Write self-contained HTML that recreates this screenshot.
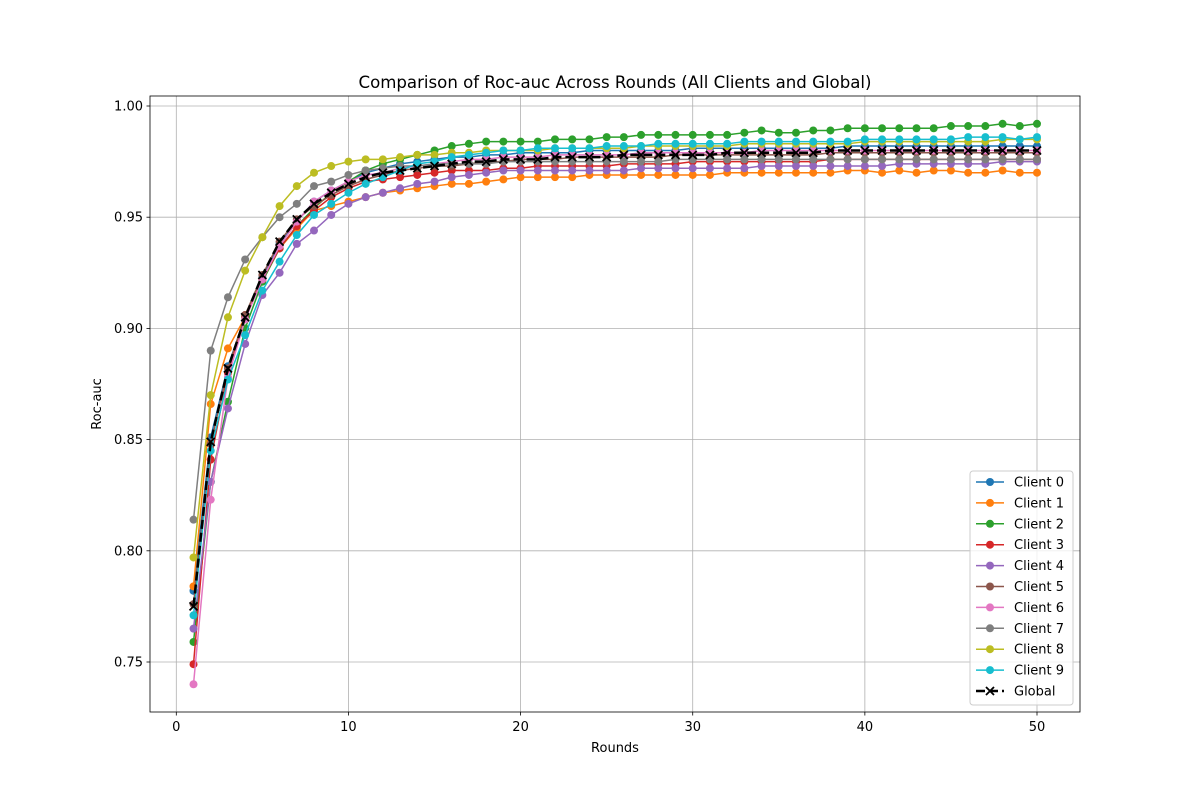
<!DOCTYPE html>
<html><head><meta charset="utf-8"><style>
body{margin:0;background:#fff;font-family:"Liberation Sans","DejaVu Sans",sans-serif}
svg text{font-family:"DejaVu Sans","Liberation Sans",sans-serif;fill:#000}
</style></head><body>
<svg id="chart" width="1200" height="800" xmlns="http://www.w3.org/2000/svg">
<rect width="1200" height="800" fill="#fff"/>
<g id="grid"></g><g id="series"></g><g id="axes"></g><g id="legend"></g>
</svg>
<script>
const rounds = Array.from({length:50},(_,i)=>i+1);
const xTicks = [0,10,20,30,40,50];
const yTicks = [0.75,0.80,0.85,0.90,0.95,1.00];
const seriesNames = ["Client 0","Client 1","Client 2","Client 3","Client 4","Client 5","Client 6","Client 7","Client 8","Client 9","Global"];
const colors = ["#1f77b4","#ff7f0e","#2ca02c","#d62728","#9467bd","#8c564b","#e377c2","#7f7f7f","#bcbd22","#17becf","#000000"];
const client0 = [0.782,0.851,0.883,0.905,0.923,0.938,0.948,0.957,0.962,0.966,0.970,0.972,0.974,0.975,0.976,0.977,0.977,0.978,0.978,0.979,0.979,0.979,0.979,0.980,0.980,0.980,0.980,0.980,0.980,0.981,0.981,0.981,0.981,0.981,0.981,0.981,0.981,0.981,0.982,0.982,0.982,0.982,0.982,0.982,0.982,0.982,0.982,0.982,0.982,0.982];
const client1 = [0.784,0.866,0.891,0.905,0.922,0.936,0.945,0.953,0.955,0.957,0.959,0.961,0.962,0.963,0.964,0.965,0.965,0.966,0.967,0.968,0.968,0.968,0.968,0.969,0.969,0.969,0.969,0.969,0.969,0.969,0.969,0.970,0.970,0.970,0.970,0.970,0.970,0.970,0.971,0.971,0.970,0.971,0.970,0.971,0.971,0.970,0.970,0.971,0.970,0.970];
const client2 = [0.759,0.831,0.867,0.900,0.921,0.936,0.946,0.954,0.961,0.966,0.971,0.974,0.976,0.978,0.980,0.982,0.983,0.984,0.984,0.984,0.984,0.985,0.985,0.985,0.986,0.986,0.987,0.987,0.987,0.987,0.987,0.987,0.988,0.989,0.988,0.988,0.989,0.989,0.990,0.990,0.990,0.990,0.990,0.990,0.991,0.991,0.991,0.992,0.991,0.992];
const client3 = [0.749,0.841,0.880,0.906,0.922,0.936,0.946,0.953,0.959,0.963,0.966,0.967,0.968,0.969,0.970,0.971,0.971,0.971,0.972,0.972,0.973,0.973,0.973,0.973,0.973,0.974,0.974,0.974,0.974,0.975,0.975,0.975,0.975,0.975,0.975,0.975,0.975,0.976,0.976,0.976,0.976,0.976,0.976,0.976,0.976,0.976,0.976,0.976,0.976,0.976];
const client4 = [0.765,0.831,0.864,0.893,0.915,0.925,0.938,0.944,0.951,0.956,0.959,0.961,0.963,0.965,0.966,0.968,0.969,0.970,0.971,0.971,0.971,0.971,0.971,0.971,0.971,0.971,0.972,0.972,0.972,0.972,0.972,0.972,0.972,0.973,0.973,0.973,0.973,0.973,0.973,0.973,0.973,0.974,0.974,0.974,0.974,0.974,0.974,0.975,0.975,0.975];
const client5 = [0.776,0.848,0.882,0.906,0.924,0.939,0.949,0.955,0.960,0.964,0.967,0.969,0.971,0.972,0.973,0.973,0.974,0.975,0.975,0.976,0.976,0.976,0.977,0.977,0.977,0.977,0.977,0.977,0.978,0.978,0.978,0.978,0.978,0.978,0.978,0.978,0.978,0.979,0.979,0.979,0.979,0.979,0.979,0.979,0.979,0.979,0.979,0.979,0.979,0.979];
const client6 = [0.740,0.823,0.878,0.904,0.922,0.937,0.948,0.957,0.962,0.966,0.969,0.970,0.972,0.973,0.974,0.975,0.976,0.976,0.977,0.977,0.977,0.978,0.978,0.978,0.978,0.978,0.979,0.979,0.979,0.979,0.979,0.979,0.979,0.980,0.980,0.980,0.980,0.980,0.980,0.980,0.980,0.980,0.980,0.980,0.980,0.980,0.980,0.980,0.980,0.980];
const client7 = [0.814,0.890,0.914,0.931,0.941,0.950,0.956,0.964,0.966,0.969,0.971,0.972,0.973,0.973,0.974,0.974,0.974,0.974,0.975,0.975,0.975,0.975,0.975,0.975,0.975,0.975,0.975,0.975,0.976,0.976,0.976,0.976,0.976,0.976,0.976,0.976,0.976,0.976,0.976,0.976,0.976,0.976,0.976,0.976,0.976,0.976,0.976,0.976,0.976,0.976];
const client8 = [0.797,0.870,0.905,0.926,0.941,0.955,0.964,0.970,0.973,0.975,0.976,0.976,0.977,0.978,0.978,0.979,0.979,0.980,0.980,0.980,0.980,0.981,0.981,0.981,0.981,0.981,0.982,0.982,0.982,0.982,0.982,0.982,0.983,0.983,0.983,0.983,0.983,0.983,0.983,0.984,0.984,0.984,0.984,0.984,0.984,0.984,0.984,0.985,0.985,0.985];
const client9 = [0.771,0.845,0.877,0.897,0.917,0.930,0.942,0.951,0.956,0.961,0.965,0.968,0.971,0.974,0.975,0.977,0.978,0.979,0.980,0.980,0.981,0.981,0.981,0.981,0.982,0.982,0.982,0.983,0.983,0.983,0.983,0.983,0.984,0.984,0.984,0.984,0.984,0.984,0.984,0.985,0.985,0.985,0.985,0.985,0.985,0.986,0.986,0.986,0.985,0.986];
const globalVals = [0.775,0.849,0.882,0.905,0.924,0.939,0.949,0.956,0.961,0.965,0.968,0.970,0.971,0.972,0.973,0.974,0.975,0.975,0.976,0.976,0.976,0.977,0.977,0.977,0.977,0.978,0.978,0.978,0.978,0.978,0.978,0.979,0.979,0.979,0.979,0.979,0.979,0.980,0.980,0.980,0.980,0.980,0.980,0.980,0.980,0.980,0.980,0.980,0.980,0.980];
const allSeries = [client0,client1,client2,client3,client4,client5,client6,client7,client8,client9,globalVals];

const NS="http://www.w3.org/2000/svg";
const L=150,R=1080,T=96,B=712;
const xS=v=>176.3+(v-0)*(1037-176.3)/50;
const yS=v=>106+(1.0-v)*(662-106)/0.25;
function mk(tag,attrs,parent){const e=document.createElementNS(NS,tag);for(const k in attrs)e.setAttribute(k,attrs[k]);parent.appendChild(e);return e;}
const grid=document.getElementById('grid'),ser=document.getElementById('series'),ax=document.getElementById('axes'),leg=document.getElementById('legend');

xTicks.forEach(t=>{const x=xS(t);
 const g=mk('line',{x1:x,x2:x,y1:T,y2:B,stroke:'#b0b0b0','stroke-width':0.8},grid);
 
 
 mk('line',{x1:x,x2:x,y1:B,y2:B+3.5,stroke:'#000','stroke-width':0.8},ax);
 const tx=mk('text',{x:x,y:B+19,'text-anchor':'middle','font-size':13},ax);tx.textContent=t;
 
 
});
yTicks.forEach(t=>{const y=yS(t);
 const g=mk('line',{x1:L,x2:R,y1:y,y2:y,stroke:'#b0b0b0','stroke-width':0.8},grid);
 
 
 mk('line',{x1:L-3.5,x2:L,y1:y,y2:y,stroke:'#000','stroke-width':0.8},ax);
 const tx=mk('text',{x:L-7,y:y+4.5,'text-anchor':'end','font-size':13},ax);tx.textContent=t.toFixed(2);
 
 
});
const fr=mk('rect',{x:L,y:T,width:R-L,height:B-T,fill:'none',stroke:'#000','stroke-width':0.8},ax);


const ti=mk('text',{x:615,y:88,'text-anchor':'middle','font-size':16.6},ax);ti.textContent='Comparison of Roc-auc Across Rounds (All Clients and Global)';


const xl=mk('text',{x:615,y:752,'text-anchor':'middle','font-size':13},ax);xl.textContent='Rounds';


const yl=mk('text',{x:101,y:404,'text-anchor':'middle','font-size':13,transform:'rotate(-90 101 404)'},ax);yl.textContent='Roc-auc';



function xMarker(cx,cy,parent){const s=4;const p=mk('path',{d:`M${cx-s},${cy-s}L${cx+s},${cy+s}M${cx-s},${cy+s}L${cx+s},${cy-s}`,stroke:'#000','stroke-width':1.8,fill:'none'},parent);return p;}

allSeries.forEach((vals,si)=>{
 const g=mk('g',{},ser);
 
 
 const pts=vals.map((v,i)=>xS(rounds[i])+','+yS(v)).join(' ');
 const isG=si===10;
 const pl=mk('polyline',{points:pts,fill:'none',stroke:colors[si],'stroke-width':isG?2.5:1.5,'stroke-dasharray':isG?'9,4':'none'},g);
 
 
 vals.forEach((v,i)=>{
  let m;
  if(isG){m=xMarker(xS(rounds[i]),yS(v),g);}
  else{m=mk('circle',{cx:xS(rounds[i]),cy:yS(v),r:4,fill:colors[si]},g);}
  
  
 });
});

const lb=mk('rect',{x:970,y:471,width:103,height:234,rx:3,fill:'#fff','fill-opacity':0.8,stroke:'#ccc','stroke-width':1},leg);


seriesNames.forEach((n,i)=>{
 const y=482+i*20.9;const isG=i===10;
 const g=mk('g',{},leg);
 
 
 mk('line',{x1:976,x2:1004,y1:y,y2:y,stroke:colors[i],'stroke-width':isG?2.5:1.5,'stroke-dasharray':isG?'9,4':'none'},g);
 if(isG)xMarker(990,y,g);else mk('circle',{cx:990,cy:y,r:4,fill:colors[i]},g);
 const t=mk('text',{x:1014,y:y+4.5,'font-size':13},g);t.textContent=n;
});
</script>
</body></html>
